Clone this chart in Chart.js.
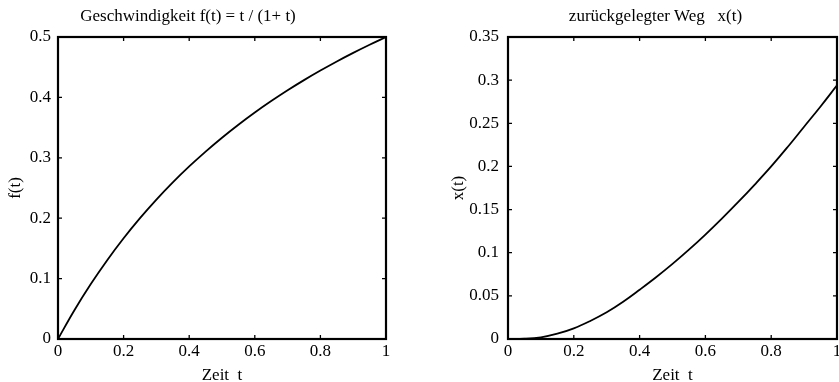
<!DOCTYPE html>
<html>
<head>
<meta charset="utf-8">
<script src="https://cdn.jsdelivr.net/npm/chart.js@4"></script>
<style>
    html, body { margin: 0; padding: 0; background: #fff; }
    #wrap { position: relative; width: 839px; height: 382px; }
    .panel { position: absolute; top: 0; height: 382px; }
    #left { left: 0; width: 420px; }
    #right { left: 420px; width: 419px; }
</style>
</head>
<body>
<div id="wrap">
    <div class="panel" id="left"><canvas id="speedChart"></canvas></div>
    <div class="panel" id="right"><canvas id="distChart"></canvas></div>
</div>
<script>
const tValues = [0, 0.05, 0.1, 0.15, 0.2, 0.25, 0.3, 0.35, 0.4, 0.45, 0.5,
                 0.55, 0.6, 0.65, 0.7, 0.75, 0.8, 0.85, 0.9, 0.95, 1];
const speedValues = [0, 0.0476, 0.0909, 0.1304, 0.1667, 0.2, 0.2308, 0.2593, 0.2857, 0.3103, 0.3333,
                     0.3548, 0.375, 0.3939, 0.4118, 0.4286, 0.4444, 0.4595, 0.4737, 0.4872, 0.5];
const distValues = [0, 0.0003, 0.002, 0.0062, 0.0124, 0.0209, 0.0309, 0.0431, 0.057, 0.0715, 0.087,
                    0.1035, 0.121, 0.1395, 0.1588, 0.179, 0.2, 0.2225, 0.246, 0.2695, 0.294];

const speedTitle = 'Geschwindigkeit f(t) = t / (1+ t)';
const distTitle = 'zurückgelegter Weg   x(t)';
const xLabel = 'Zeit  t';

const serif = "'Liberation Serif', 'DejaVu Serif', serif";

// Rahmen mit Ticks nach innen auf allen vier Seiten + Titel
const framePlugin = {
    id: 'frame',
    afterDraw(chart, args, opts) {
        const { ctx, chartArea: a, scales } = chart;
        const len = 4;
        ctx.save();
        ctx.strokeStyle = '#000';
        ctx.lineWidth = 1.3;
        ctx.beginPath();
        scales.x.ticks.forEach((tk, i) => {
            const px = scales.x.getPixelForTick(i);
            ctx.moveTo(px, a.bottom); ctx.lineTo(px, a.bottom - len);
            ctx.moveTo(px, a.top); ctx.lineTo(px, a.top + len);
        });
        scales.y.ticks.forEach((tk, i) => {
            const py = scales.y.getPixelForTick(i);
            ctx.moveTo(a.left, py); ctx.lineTo(a.left + len, py);
            ctx.moveTo(a.right, py); ctx.lineTo(a.right - len, py);
        });
        ctx.stroke();
        ctx.lineWidth = 2.2;
        ctx.strokeRect(a.left, a.top, a.right - a.left, a.bottom - a.top);

        ctx.fillStyle = '#000';
        ctx.font = '17px ' + serif;
        ctx.textAlign = 'center';
        ctx.textBaseline = 'middle';
        ctx.fillText(opts.text, (a.left + a.right) / 2 + opts.shift, 17);
        ctx.restore();
    }
};

const fmt = v => String(+v.toFixed(2));

function makeChart(id, values, cfg) {
    return new Chart(document.getElementById(id), {
        type: 'line',
        data: {
            datasets: [{
                data: tValues.map((t, i) => ({ x: t, y: values[i] })),
                borderColor: '#000',
                borderWidth: 1.8,
                pointRadius: 0,
                tension: 0.4,
                fill: false
            }]
        },
        options: {
            responsive: true,
            maintainAspectRatio: false,
            animation: false,
            events: [],
            layout: { padding: { top: 37, right: cfg.padRight, left: 0, bottom: 0 } },
            plugins: {
                legend: { display: false },
                tooltip: { enabled: false },
                frame: { text: cfg.title, shift: cfg.titleShift }
            },
            scales: {
                x: {
                    type: 'linear',
                    min: 0, max: 1,
                    grid: { display: false, drawTicks: false, tickLength: 0 },
                    border: { display: false },
                    ticks: { stepSize: 0.2, color: '#000', padding: 2, font: { family: serif, size: 17 }, maxRotation: 0, callback: fmt },
                    title: { display: true, text: xLabel, color: '#000', font: { family: serif, size: 17, lineHeight: 0.75 }, padding: 0 },
                    afterFit: s => { s.height = 43; s.paddingLeft = 0; s.paddingRight = 0; }
                },
                y: {
                    min: 0, max: cfg.yMax,
                    grid: { display: false, drawTicks: false, tickLength: 0 },
                    border: { display: false },
                    ticks: { stepSize: cfg.yStep, color: '#000', padding: cfg.tickPad, font: { family: serif, size: 17 }, callback: fmt },
                    title: { display: true, text: cfg.yLabel, color: '#000', font: { family: serif, size: 17 }, padding: cfg.titlePad },
                    afterFit: s => { s.width = cfg.axisWidth; }
                }
            }
        },
        plugins: [framePlugin]
    });
}

makeChart('speedChart', speedValues, {
    title: speedTitle, titleShift: -34, yLabel: 'f(t)', yMax: 0.5, yStep: 0.1,
    axisWidth: 58, padRight: 34, tickPad: 7, titlePad: 5
});
makeChart('distChart', distValues, {
    title: distTitle, titleShift: -17, yLabel: 'x(t)', yMax: 0.35, yStep: 0.05,
    axisWidth: 88, padRight: 2, tickPad: 9, titlePad: 28
});
</script>
</body>
</html>
